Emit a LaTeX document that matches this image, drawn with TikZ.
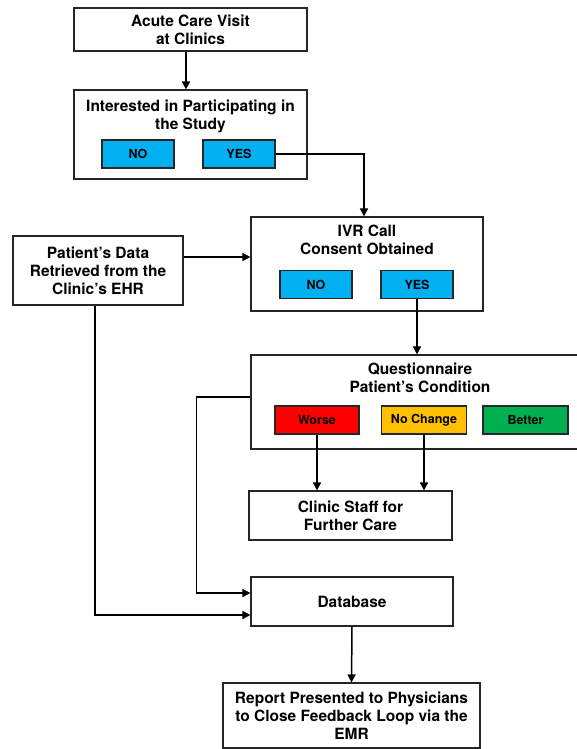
\documentclass[tikz,border=0pt]{standalone}
\usepackage{fontspec}
\setmainfont{TeX Gyre Heros}
\usetikzlibrary{math,arrows.meta}

\definecolor{skyblue}{RGB}{0,176,240}
\definecolor{worsered}{RGB}{255,0,0}
\definecolor{sameyellow}{RGB}{255,192,0}
\definecolor{bettergreen}{RGB}{0,176,80}

\tikzset{
  box/.style={draw=black!85, line width=1.1pt, fill=white, align=center,
    font=\bfseries\fontsize{15.5}{18}\selectfont, inner sep=0pt},
  title/.style={align=center, font=\bfseries\fontsize{15.5}{18}\selectfont, inner sep=0pt},
  btn/.style={draw=black!85, line width=1.1pt, font=\bfseries\fontsize{12.5}{14}\selectfont,
    minimum height=28, inner sep=0pt},
  arr/.style={line width=1.5pt, -{Triangle[length=8pt,width=8pt]}},
}

\begin{document}
\begin{tikzpicture}[x=1pt, y=-1pt]
  \tikzmath{\bw = 72; \cw = 85;}
  \useasboundingbox (0,0) rectangle (577,749);

  % boxes
  \node[box, minimum width=233, minimum height=43] (visit) at (190.5,29.5) {Acute Care Visit\\at Clinics};
  \node[box, minimum width=233, minimum height=89] (interest) at (190.5,134.5) {};
  \node[title] (interestT) at (190.5,116.5) {Interested in Participating in\\the Study};
  \node[btn, fill=skyblue, minimum width=\bw] (no1) at (138,154) {NO};
  \node[btn, fill=skyblue, minimum width=\bw] (yes1) at (239,154) {YES};

  \node[box, minimum width=170, minimum height=69] (ehr) at (98,270.5) {Patient’s Data\\Retrieved from the\\Clinic’s EHR};

  \node[box, minimum width=232, minimum height=94] (ivr) at (367,264) {};
  \node[title] (ivrT) at (367,239.5) {IVR Call\\Consent Obtained};
  \node[btn, fill=skyblue, minimum width=\bw] (no2) at (316,284.5) {NO};
  \node[btn, fill=skyblue, minimum width=\bw] (yes2) at (417,284.5) {YES};

  \node[box, minimum width=338, minimum height=94] (q) at (420,402) {};
  \node[title] (qT) at (420,378) {Questionnaire\\Patient’s Condition};
  \node[btn, fill=worsered, minimum width=84] (worse) at (317,420) {Worse};
  \node[btn, fill=sameyellow, minimum width=\cw] (nochange) at (424,420) {No Change};
  \node[btn, fill=bettergreen, minimum width=\cw] (better) at (525.5,420) {Better};

  \node[box, minimum width=203, minimum height=49] (clinic) at (350.5,515.5) {Clinic Staff for\\Further Care};
  \node[box, minimum width=202, minimum height=49] (db) at (352,601.5) {Database};
  \node[box, minimum width=257, minimum height=65] (report) at (351.5,715.5) {Report Presented to Physicians\\to Close Feedback Loop via the\\EMR};

  % connectors
  \draw[arr] ([xshift=-4.5]visit.south) -- ([xshift=-4.5]interest.north);
  \draw[arr] (yes1.east) -| ([xshift=-3]ivr.north);
  \draw[arr] ([yshift=13.5]ehr.east) -- ([yshift=13.5]ehr.east -| ivr.west);
  \draw[arr] (yes2.south) -- (yes2.south |- q.north);
  \draw[arr] ([yshift=5]q.west) -- ++(-54,0) |- ([yshift=8.5]db.west);
  \draw[arr] ([xshift=-3]ehr.south) |- ([yshift=-13.5]db.west);
  \draw[arr] (worse.south) -- (worse.south |- clinic.north);
  \draw[arr] (nochange.south) -- (nochange.south |- clinic.north);
  \draw[arr] (db.south) -- (report.north);
\end{tikzpicture}
\end{document}
